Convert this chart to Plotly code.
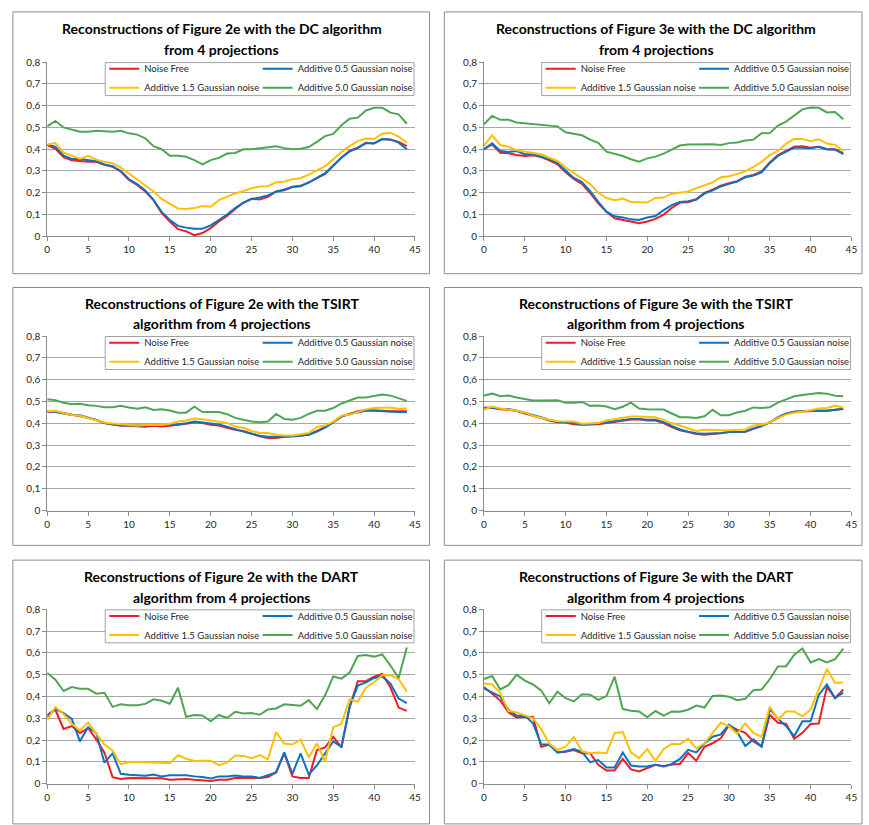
import plotly.graph_objects as go

# ---------------- data ----------------
x_positions = list(range(45))
series_names = ["Noise Free", "Additive 0.5 Gaussian noise",
                "Additive 1.5 Gaussian noise", "Additive 5.0 Gaussian noise"]
x_tick_values = [0, 5, 10, 15, 20, 25, 30, 35, 40, 45]
y_tick_values = [0, 0.1, 0.2, 0.3, 0.4, 0.5, 0.6, 0.7, 0.8]
y_tick_labels = ["0", "0,1", "0,2", "0,3", "0,4", "0,5", "0,6", "0,7", "0,8"]

panel_titles = [
    ("Reconstructions of Figure 2e with the DC algorithm", "from 4 projections"),
    ("Reconstructions of Figure 3e with the DC algorithm", "from 4 projections"),
    ("Reconstructions of Figure 2e with the TSIRT", "algorithm from 4 projections"),
    ("Reconstructions of Figure 3e with the TSIRT", "algorithm from 4 projections"),
    ("Reconstructions of Figure 2e with the DART", "algorithm from 4 projections"),
    ("Reconstructions of Figure 3e with the DART", "algorithm from 4 projections"),
]

# DC, figure 2e
dc_2e_free = [0.419,0.402,0.364,0.349,0.346,0.342,0.342,0.328,0.319,0.298,0.259,0.236,0.206,0.166,0.108,0.068,0.033,0.023,0.005,0.015,0.038,0.068,0.093,0.126,0.154,0.172,0.169,0.181,0.206,0.211,0.226,0.230,0.248,0.268,0.286,0.324,0.361,0.392,0.407,0.430,0.426,0.447,0.444,0.434,0.414]
dc_2e_n05 = [0.420,0.412,0.370,0.355,0.355,0.350,0.345,0.330,0.322,0.300,0.262,0.240,0.210,0.168,0.112,0.075,0.048,0.040,0.035,0.035,0.050,0.075,0.100,0.130,0.155,0.172,0.178,0.188,0.205,0.215,0.228,0.232,0.247,0.268,0.290,0.325,0.362,0.390,0.405,0.428,0.428,0.447,0.445,0.430,0.400]
dc_2e_n15 = [0.422,0.428,0.384,0.370,0.357,0.370,0.352,0.342,0.336,0.316,0.289,0.260,0.233,0.206,0.172,0.149,0.128,0.125,0.130,0.139,0.136,0.166,0.182,0.197,0.208,0.221,0.229,0.230,0.248,0.251,0.262,0.267,0.283,0.301,0.322,0.354,0.387,0.414,0.437,0.449,0.447,0.471,0.476,0.458,0.430]
dc_2e_n50 = [0.505,0.530,0.500,0.490,0.480,0.480,0.485,0.483,0.480,0.485,0.473,0.467,0.450,0.414,0.400,0.370,0.370,0.365,0.350,0.330,0.350,0.360,0.380,0.383,0.400,0.400,0.405,0.410,0.414,0.405,0.400,0.402,0.410,0.434,0.460,0.470,0.510,0.540,0.545,0.578,0.590,0.590,0.568,0.560,0.517]

# DC, figure 3e
dc_3e_free = [0.400,0.422,0.384,0.381,0.374,0.369,0.372,0.364,0.349,0.331,0.294,0.264,0.241,0.199,0.151,0.113,0.083,0.075,0.068,0.060,0.068,0.080,0.100,0.130,0.155,0.157,0.170,0.200,0.214,0.233,0.244,0.253,0.274,0.282,0.298,0.339,0.373,0.392,0.411,0.414,0.407,0.411,0.400,0.400,0.381]
dc_3e_n05 = [0.400,0.427,0.392,0.387,0.392,0.377,0.377,0.366,0.354,0.336,0.301,0.268,0.249,0.208,0.158,0.113,0.092,0.087,0.078,0.075,0.086,0.093,0.120,0.143,0.158,0.161,0.169,0.196,0.211,0.229,0.241,0.251,0.271,0.279,0.294,0.336,0.369,0.389,0.407,0.407,0.404,0.411,0.400,0.398,0.377]
dc_3e_n15 = [0.417,0.464,0.419,0.411,0.395,0.390,0.384,0.377,0.361,0.346,0.316,0.290,0.268,0.241,0.200,0.176,0.166,0.173,0.158,0.155,0.155,0.176,0.178,0.196,0.200,0.206,0.221,0.236,0.248,0.271,0.276,0.286,0.298,0.319,0.342,0.373,0.392,0.426,0.447,0.447,0.437,0.446,0.426,0.420,0.392]
dc_3e_n50 = [0.515,0.553,0.535,0.535,0.523,0.520,0.515,0.512,0.509,0.505,0.478,0.471,0.464,0.444,0.429,0.389,0.380,0.369,0.354,0.343,0.358,0.366,0.380,0.400,0.417,0.422,0.422,0.425,0.423,0.419,0.428,0.431,0.440,0.444,0.473,0.474,0.509,0.527,0.553,0.583,0.592,0.590,0.569,0.571,0.538]

# TSIRT, figure 2e
tsirt_2e_free = [0.453,0.453,0.447,0.440,0.435,0.425,0.416,0.401,0.395,0.390,0.389,0.387,0.384,0.389,0.386,0.389,0.393,0.398,0.405,0.401,0.393,0.390,0.380,0.370,0.365,0.353,0.341,0.333,0.333,0.338,0.341,0.345,0.348,0.365,0.383,0.405,0.431,0.443,0.455,0.461,0.461,0.458,0.455,0.455,0.455]
tsirt_2e_n05 = [0.455,0.452,0.445,0.438,0.437,0.427,0.415,0.402,0.395,0.390,0.390,0.390,0.390,0.390,0.390,0.393,0.396,0.400,0.408,0.404,0.398,0.395,0.385,0.372,0.362,0.352,0.343,0.338,0.338,0.338,0.340,0.343,0.348,0.362,0.380,0.405,0.432,0.443,0.452,0.458,0.458,0.455,0.452,0.452,0.452]
tsirt_2e_n15 = [0.456,0.458,0.447,0.438,0.435,0.425,0.413,0.404,0.399,0.395,0.392,0.390,0.392,0.393,0.392,0.398,0.408,0.413,0.422,0.419,0.413,0.410,0.402,0.385,0.380,0.365,0.356,0.356,0.348,0.344,0.344,0.350,0.356,0.383,0.390,0.408,0.435,0.440,0.453,0.464,0.470,0.473,0.473,0.467,0.468]
tsirt_2e_n50 = [0.510,0.506,0.494,0.488,0.490,0.483,0.480,0.474,0.474,0.480,0.473,0.467,0.474,0.461,0.464,0.459,0.449,0.449,0.476,0.452,0.452,0.452,0.442,0.425,0.416,0.408,0.405,0.408,0.443,0.420,0.417,0.425,0.443,0.458,0.458,0.470,0.491,0.503,0.518,0.518,0.524,0.532,0.527,0.514,0.503]

# TSIRT, figure 3e
tsirt_3e_free = [0.471,0.473,0.464,0.462,0.456,0.447,0.435,0.425,0.413,0.405,0.404,0.396,0.393,0.395,0.396,0.402,0.408,0.414,0.417,0.419,0.413,0.413,0.401,0.383,0.368,0.360,0.351,0.348,0.350,0.354,0.360,0.360,0.362,0.375,0.387,0.404,0.425,0.443,0.453,0.455,0.458,0.458,0.458,0.462,0.467]
tsirt_3e_n05 = [0.470,0.470,0.466,0.466,0.458,0.449,0.437,0.428,0.415,0.407,0.406,0.400,0.395,0.397,0.400,0.405,0.410,0.416,0.420,0.420,0.416,0.416,0.405,0.388,0.372,0.362,0.355,0.352,0.353,0.356,0.360,0.360,0.362,0.377,0.388,0.405,0.428,0.445,0.453,0.455,0.458,0.458,0.458,0.462,0.466]
tsirt_3e_n15 = [0.462,0.477,0.468,0.464,0.458,0.450,0.435,0.426,0.416,0.410,0.410,0.408,0.398,0.401,0.402,0.413,0.420,0.426,0.431,0.431,0.428,0.428,0.416,0.400,0.390,0.378,0.365,0.371,0.368,0.368,0.368,0.371,0.372,0.390,0.393,0.405,0.425,0.440,0.449,0.453,0.461,0.468,0.470,0.480,0.473]
tsirt_3e_n50 = [0.528,0.536,0.524,0.527,0.518,0.512,0.505,0.505,0.506,0.506,0.494,0.494,0.498,0.480,0.482,0.477,0.465,0.476,0.495,0.468,0.465,0.464,0.463,0.445,0.428,0.428,0.425,0.432,0.462,0.437,0.437,0.450,0.458,0.473,0.470,0.474,0.495,0.510,0.524,0.530,0.536,0.539,0.536,0.526,0.524]

# DART, figure 2e
dart_2e_free = [0.316,0.339,0.251,0.264,0.232,0.255,0.203,0.142,0.029,0.021,0.026,0.026,0.026,0.026,0.024,0.018,0.018,0.021,0.017,0.015,0.012,0.018,0.018,0.026,0.026,0.026,0.026,0.030,0.051,0.139,0.033,0.026,0.026,0.154,0.166,0.214,0.166,0.349,0.470,0.470,0.491,0.503,0.441,0.349,0.334]
dart_2e_n05 = [0.307,0.342,0.324,0.297,0.194,0.259,0.232,0.096,0.139,0.045,0.041,0.038,0.036,0.042,0.033,0.038,0.038,0.038,0.033,0.030,0.023,0.033,0.033,0.037,0.033,0.033,0.026,0.038,0.051,0.143,0.045,0.139,0.041,0.083,0.139,0.194,0.169,0.354,0.450,0.465,0.485,0.492,0.459,0.390,0.369]
dart_2e_n15 = [0.293,0.352,0.319,0.274,0.244,0.280,0.229,0.179,0.151,0.089,0.099,0.099,0.096,0.096,0.096,0.093,0.130,0.114,0.104,0.105,0.105,0.084,0.097,0.129,0.127,0.116,0.131,0.111,0.236,0.184,0.179,0.202,0.120,0.184,0.101,0.259,0.274,0.387,0.376,0.440,0.465,0.497,0.497,0.480,0.422]
dart_2e_n50 = [0.508,0.477,0.425,0.443,0.435,0.435,0.413,0.417,0.352,0.364,0.360,0.360,0.366,0.387,0.380,0.367,0.440,0.307,0.315,0.313,0.286,0.315,0.301,0.330,0.322,0.324,0.316,0.340,0.345,0.364,0.361,0.357,0.383,0.342,0.405,0.492,0.482,0.510,0.586,0.590,0.583,0.593,0.542,0.485,0.625]

# DART, figure 3e
dart_3e_free = [0.443,0.410,0.381,0.327,0.304,0.307,0.306,0.169,0.178,0.143,0.146,0.154,0.139,0.139,0.086,0.060,0.060,0.113,0.065,0.056,0.071,0.086,0.080,0.088,0.090,0.140,0.105,0.169,0.185,0.208,0.268,0.248,0.233,0.193,0.170,0.316,0.279,0.274,0.206,0.233,0.274,0.276,0.444,0.392,0.432]
dart_3e_n05 = [0.437,0.419,0.400,0.339,0.312,0.312,0.277,0.181,0.179,0.143,0.148,0.158,0.146,0.098,0.108,0.074,0.074,0.143,0.083,0.078,0.078,0.086,0.078,0.090,0.113,0.155,0.143,0.184,0.215,0.226,0.271,0.238,0.173,0.203,0.170,0.343,0.298,0.264,0.218,0.286,0.286,0.407,0.455,0.392,0.417]
dart_3e_n15 = [0.459,0.455,0.417,0.334,0.327,0.312,0.300,0.251,0.184,0.154,0.169,0.214,0.148,0.139,0.143,0.139,0.232,0.236,0.143,0.117,0.158,0.105,0.158,0.183,0.181,0.206,0.161,0.185,0.233,0.279,0.264,0.229,0.276,0.233,0.214,0.354,0.294,0.331,0.331,0.309,0.339,0.429,0.527,0.462,0.464]
dart_3e_n50 = [0.480,0.494,0.432,0.452,0.500,0.473,0.455,0.428,0.369,0.422,0.392,0.377,0.410,0.408,0.384,0.402,0.491,0.342,0.334,0.331,0.304,0.333,0.312,0.331,0.330,0.339,0.358,0.349,0.402,0.404,0.399,0.383,0.389,0.429,0.432,0.479,0.538,0.539,0.592,0.620,0.556,0.572,0.556,0.571,0.620]

panel_series = [
    [dc_2e_free, dc_2e_n05, dc_2e_n15, dc_2e_n50],
    [dc_3e_free, dc_3e_n05, dc_3e_n15, dc_3e_n50],
    [tsirt_2e_free, tsirt_2e_n05, tsirt_2e_n15, tsirt_2e_n50],
    [tsirt_3e_free, tsirt_3e_n05, tsirt_3e_n15, tsirt_3e_n50],
    [dart_2e_free, dart_2e_n05, dart_2e_n15, dart_2e_n50],
    [dart_3e_free, dart_3e_n05, dart_3e_n15, dart_3e_n50],
]

# ---------------- layout / style ----------------
W, H = 869, 825
FONT = "Lato"
COLORS = ["#ee1c25", "#0b72c2", "#ffc000", "#4ea654"]
AXIS_GRAY = "#8c8c8c"
GRID_GRAY = "#a8a8a8"
LEG_FONT = 9.5

# pixel geometry: plot area (x0, x1, ytop, ybottom) and outer box (x0, y0, x1, y1)
plot_px = [
    (44.7, 416.3, 56, 233), (486, 857.3, 56, 233),
    (44.7, 416.3, 334.3, 511.7), (486, 857.3, 334.3, 511.7),
    (44.7, 416.3, 612, 789), (486, 857.3, 612, 789),
]
box_px = [
    (10, 5, 431, 271), (446, 5, 868, 271),
    (10, 285, 431, 547), (446, 285, 868, 547),
    (10, 562, 431, 830), (446, 562, 868, 830),
]
title_center_px = [221, 660, 221, 660, 221, 660]
title_rows_px = [(22, 43), (22, 43), (301, 322), (301, 322), (579, 600), (579, 600)]


def fx(px):
    return px / W


def fy(py):
    return 1 - py / H


fig = go.Figure()
layout = dict(
    width=W, height=H,
    margin=dict(l=0, r=0, t=0, b=0),
    paper_bgcolor="white", plot_bgcolor="white",
    font=dict(family=FONT, size=10, color="#262626"),
    shapes=[], annotations=[],
)

COL_W = 157      # px reserved for one legend column (symbol + text)

for i, series in enumerate(panel_series):
    ax = "" if i == 0 else str(i + 1)
    px0, px1, pyt, pyb = plot_px[i]
    col2_x = px1 - COL_W - 2
    col1_x = col2_x - COL_W + 2
    leg_top = pyt - 8
    leg_names = []
    for c in range(2):
        k = 2 * i + c + 1
        leg_names.append("legend" if k == 1 else f"legend{k}")
    for s, vals in enumerate(series):
        col = 0 if s in (0, 2) else 1
        fig.add_trace(go.Scatter(
            x=x_positions, y=vals, mode="lines", name=series_names[s],
            line=dict(color=COLORS[s], width=2),
            xaxis="x" + ax, yaxis="y" + ax, legend=leg_names[col],
            hoverinfo="skip",
        ))
    for c in range(2):
        layout[leg_names[c]] = dict(
            x=fx(col1_x if c == 0 else col2_x), y=fy(leg_top),
            xanchor="left", yanchor="top",
            bgcolor="rgba(0,0,0,0)", borderwidth=0,
            font=dict(family=FONT, size=LEG_FONT, color="#262626"),
            tracegroupgap=0, itemwidth=30,
        )
    # legend frame
    layout["shapes"].append(dict(
        type="rect", xref="paper", yref="paper", layer="above",
        x0=fx(col1_x + 1), x1=fx(px1 - 1), y0=fy(pyt + 0.5), y1=fy(pyt + 34),
        fillcolor="white", line=dict(color="#a0a0a0", width=1),
    ))
    # outer chart box
    bx0, by0, bx1, by1 = box_px[i]
    layout["shapes"].append(dict(
        type="rect", xref="paper", yref="paper", layer="below",
        x0=fx(bx0), x1=fx(bx1), y0=fy(by1), y1=fy(by0),
        fillcolor="rgba(0,0,0,0)", line=dict(color="#8c8c8c", width=1),
    ))
    # axes
    layout["xaxis" + ax] = dict(
        domain=[fx(px0), fx(px1)], range=[0, 45], anchor="y" + ax,
        tickvals=x_tick_values, showgrid=False, zeroline=False,
        showline=True, linecolor=AXIS_GRAY, linewidth=1,
        ticks="outside", ticklen=4, tickcolor=AXIS_GRAY,
        tickfont=dict(family=FONT, size=10, color="#262626"), fixedrange=True,
    )
    layout["yaxis" + ax] = dict(
        domain=[fy(pyb), fy(pyt)], range=[0, 0.8], anchor="x" + ax,
        tickvals=y_tick_values, ticktext=y_tick_labels,
        showgrid=True, gridcolor=GRID_GRAY, gridwidth=1, zeroline=False,
        showline=True, linecolor=AXIS_GRAY, linewidth=1,
        ticks="outside", ticklen=4, tickcolor=AXIS_GRAY,
        tickfont=dict(family=FONT, size=10, color="#262626"), fixedrange=True,
    )
    # title (two lines)
    for r, line_text in enumerate(panel_titles[i]):
        layout["annotations"].append(dict(
            text=f"<b>{line_text}</b>", xref="paper", yref="paper",
            x=fx(title_center_px[i]), y=fy(title_rows_px[i][r]),
            xanchor="center", yanchor="middle", showarrow=False,
            font=dict(family=FONT, size=14, color="black"),
        ))

fig.update_layout(**layout)
fig.write_html("out.html", config={"displayModeBar": False},
               post_script="document.body.style.margin='0px';")
